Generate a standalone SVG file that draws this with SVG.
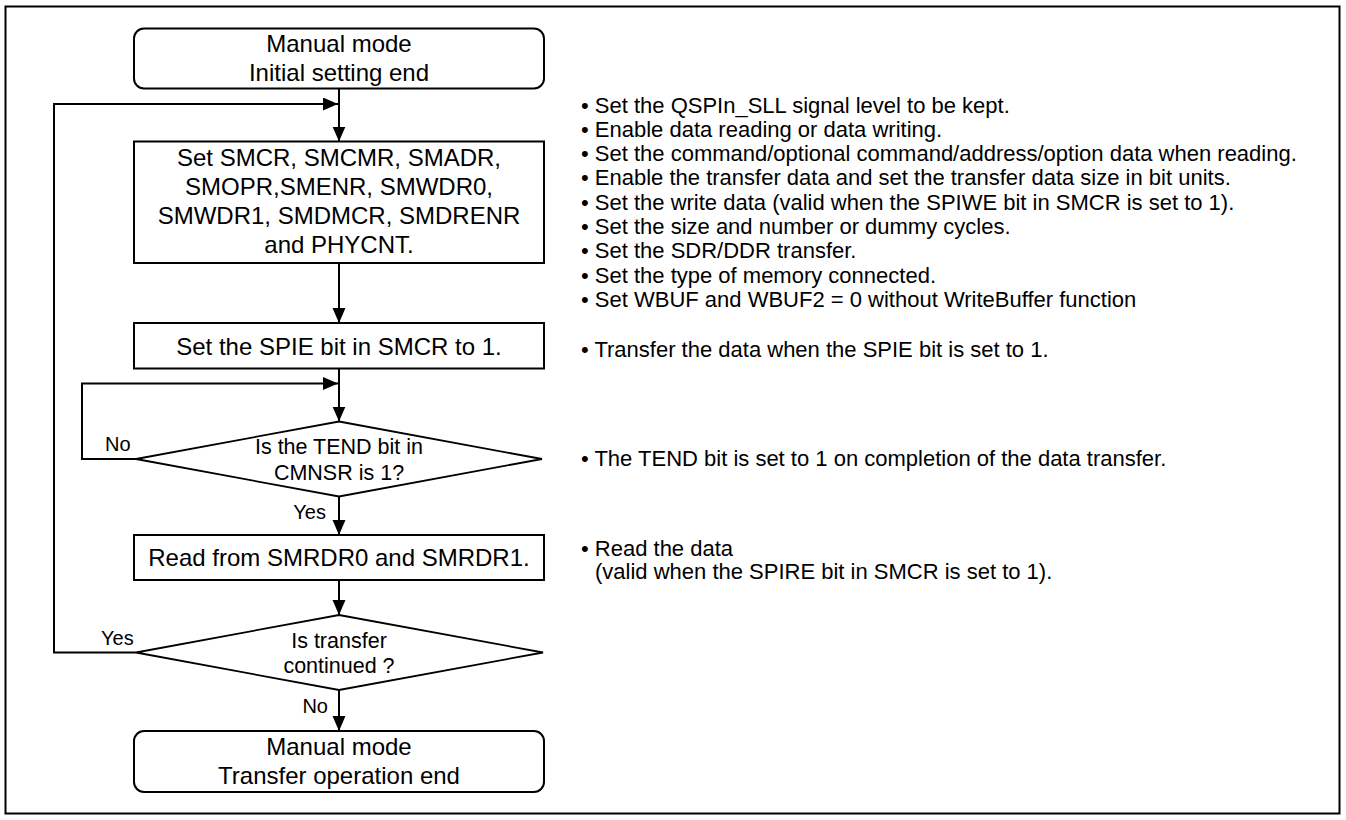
<svg xmlns="http://www.w3.org/2000/svg" width="1346" height="820" viewBox="0 0 1346 820">
<style>
  .frame { fill: #ffffff; stroke: #000000; stroke-width: 2; }
  .box { fill: #ffffff; stroke: #000000; stroke-width: 2; }
  .dia { fill: #ffffff; stroke: #000000; stroke-width: 1.8; }
  .conn { fill: none; stroke: #000000; stroke-width: 2; }
  .bt { font-family: "Liberation Sans", Arial, sans-serif; font-size: 24px; fill: #000; text-anchor: middle; }
  .dt { font-family: "Liberation Sans", Arial, sans-serif; font-size: 21.5px; fill: #000; text-anchor: middle; }
  .lbl { font-family: "Liberation Sans", Arial, sans-serif; font-size: 20px; fill: #000; }
  .note { font-family: "Liberation Sans", Arial, sans-serif; font-size: 22px; fill: #000; }
</style>
<defs>
  <marker id="arr" markerUnits="userSpaceOnUse" markerWidth="16" markerHeight="14" refX="15" refY="6.5" orient="auto">
    <path d="M0,0 L15,6.5 L0,13 Z" fill="#000"/>
  </marker>
</defs>
<rect class="frame" x="5.5" y="6.5" width="1334" height="807"/>

<g id="connectors">
  <path class="conn" d="M339,88.5 V141.5" marker-end="url(#arr)"/>
  <path class="conn" d="M136,652.5 H54 V104 H338" marker-end="url(#arr)"/>
  <path class="conn" d="M339,263 V323" marker-end="url(#arr)"/>
  <path class="conn" d="M339,368.5 V421.5" marker-end="url(#arr)"/>
  <path class="conn" d="M136,459 H82 V383.5 H338" marker-end="url(#arr)"/>
  <path class="conn" d="M339,496.5 V535" marker-end="url(#arr)"/>
  <path class="conn" d="M339,580 V615" marker-end="url(#arr)"/>
  <path class="conn" d="M339,690 V731" marker-end="url(#arr)"/>
  <text class="lbl" x="105" y="451">No</text>
  <text class="lbl" x="326" y="519" text-anchor="end">Yes</text>
  <text class="lbl" x="101" y="645">Yes</text>
  <text class="lbl" x="328" y="713" text-anchor="end">No</text>
</g>

<g id="start">
  <rect class="box" x="134" y="28.5" width="410" height="60" rx="10" ry="10"/>
  <text class="bt" x="339" y="51.5">Manual mode</text>
  <text class="bt" x="339" y="80.5">Initial setting end</text>
</g>

<g id="set-registers">
  <rect class="box" x="134" y="141.5" width="410" height="121.5"/>
  <text class="bt" x="339" y="166">Set SMCR, SMCMR, SMADR,</text>
  <text class="bt" x="339" y="195">SMOPR,SMENR, SMWDR0,</text>
  <text class="bt" x="339" y="224">SMWDR1, SMDMCR, SMDRENR</text>
  <text class="bt" x="339" y="253">and PHYCNT.</text>
</g>

<g id="set-spie">
  <rect class="box" x="134" y="323" width="410" height="45.5"/>
  <text class="bt" x="339" y="355">Set the SPIE bit in SMCR to 1.</text>
</g>

<g id="check-tend">
  <polygon class="dia" points="339,421.5 542,459 339,496.5 136,459"/>
  <text class="dt" x="339" y="454">Is the TEND bit in</text>
  <text class="dt" x="339" y="480">CMNSR is 1?</text>
</g>

<g id="read-data">
  <rect class="box" x="134" y="535" width="410" height="45"/>
  <text class="bt" x="339" y="566">Read from SMRDR0 and SMRDR1.</text>
</g>

<g id="check-continue">
  <polygon class="dia" points="339,615 543,652.5 339,690 136,652.5"/>
  <text class="dt" x="339" y="648">Is transfer</text>
  <text class="dt" x="339" y="673">continued ?</text>
</g>

<g id="end">
  <rect class="box" x="134" y="731" width="410" height="61" rx="10" ry="10"/>
  <text class="bt" x="339" y="755">Manual mode</text>
  <text class="bt" x="339" y="784">Transfer operation end</text>
</g>

<g id="notes">
  <text class="note" x="581" y="112.5">• Set the QSPIn_SLL signal level to be kept.</text>
  <text class="note" x="581" y="136.8">• Enable data reading or data writing.</text>
  <text class="note" x="581" y="161.1">• Set the command/optional command/address/option data when reading.</text>
  <text class="note" x="581" y="185.4">• Enable the transfer data and set the transfer data size in bit units.</text>
  <text class="note" x="581" y="209.7">• Set the write data (valid when the SPIWE bit in SMCR is set to 1).</text>
  <text class="note" x="581" y="234">• Set the size and number or dummy cycles.</text>
  <text class="note" x="581" y="258.3">• Set the SDR/DDR transfer.</text>
  <text class="note" x="581" y="282.6">• Set the type of memory connected.</text>
  <text class="note" x="581" y="306.9">• Set WBUF and WBUF2 = 0 without WriteBuffer function</text>
  <text class="note" x="581" y="357">• Transfer the data when the SPIE bit is set to 1.</text>
  <text class="note" x="581" y="466">• The TEND bit is set to 1 on completion of the data transfer.</text>
  <text class="note" x="581" y="556">• Read the data</text>
  <text class="note" x="595" y="579">(valid when the SPIRE bit in SMCR is set to 1).</text>
</g>
</svg>
